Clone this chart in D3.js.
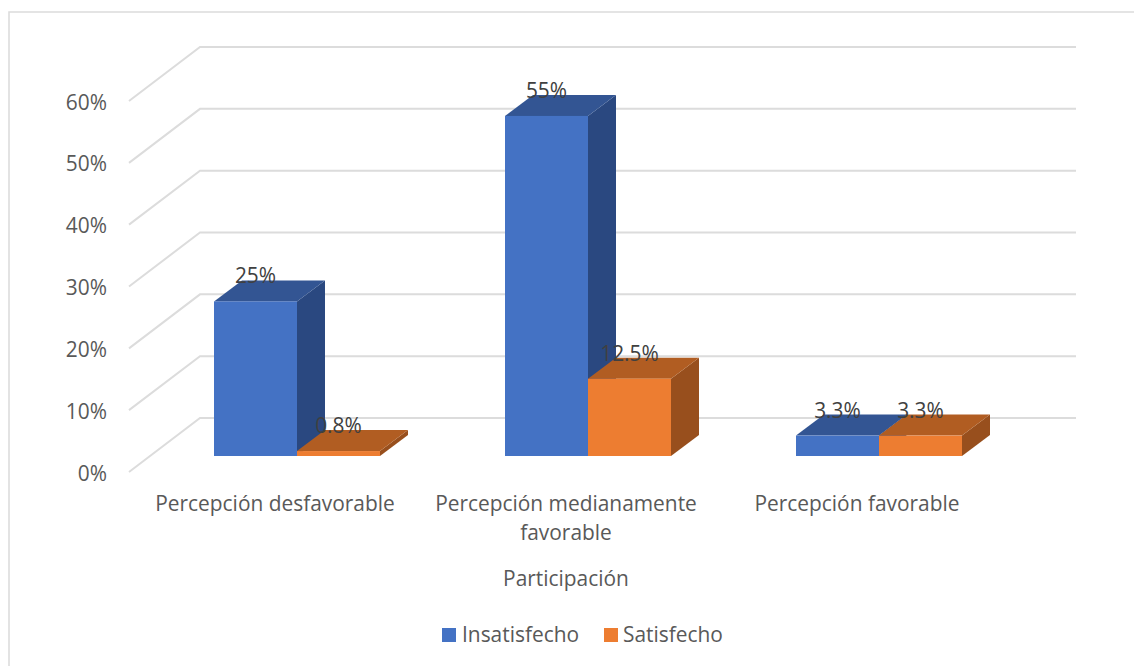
<!DOCTYPE html>
<html><head><meta charset="utf-8">
<script src="https://cdn.jsdelivr.net/npm/d3@7/dist/d3.min.js"></script>
<style>html,body{margin:0;padding:0;background:#fff}svg{display:block}text{font-family:"Open Sans",sans-serif}</style>
</head><body><svg id="c" width="1134" height="666"></svg>
<script>
const categories = ["Percepción desfavorable", "Percepción medianamente favorable", "Percepción favorable"];
const categoryLines = [["Percepción desfavorable"], ["Percepción medianamente", "favorable"], ["Percepción favorable"]];
const seriesNames = ["Insatisfecho", "Satisfecho"];
const insatisfecho = [25, 55, 3.3];
const satisfecho = [0.8, 12.5, 3.3];
const valueLabels = [["25%", "55%", "3.3%"], ["0.8%", "12.5%", "3.3%"]];
const yTicks = [0, 10, 20, 30, 40, 50, 60];
const axisTitle = "Participación";

const W = 1134, H = 666, FS = 20.9;
const svg = d3.select("#c");
const grid = "#dcdcdc", txt = "#595959", lbl = "#404040";
const front = ["#4472c4", "#ed7d31"], top_ = ["#335593", "#b15d22"], side = ["#2a4880", "#984f1d"];

// frame
svg.append("path").attr("d", `M9,${H}V12H${W}`).attr("fill", "none").attr("stroke", "#dcdcdc").attr("stroke-width", 1.6);

// scales
const y = d3.scaleLinear().domain([0, 60]).range([472, 101]);      // front edge of the floor
const depth = { dx: 71, dy: -54 };                                  // full depth of the 3D box
const barInset = { dx: 22, dy: -16 }, barDepth = { dx: 28, dy: -21 };
const x = d3.scaleBand().domain(categories).range([129.5, 1002.5]);
const xS = d3.scaleBand().domain(seriesNames).range([0, 166]);
const right = 1076;

// walls
const g = svg.append("g").attr("fill", "none").attr("stroke", grid).attr("stroke-width", 2);
yTicks.forEach(t => g.append("path").attr("d", d3.line()([
  [129, y(t)], [129 + depth.dx, y(t) + depth.dy], [right, y(t) + depth.dy]])));

// y tick labels
svg.append("g").selectAll("text").data(yTicks).join("text")
  .attr("x", 107).attr("y", d => y(d) + 8.5).attr("text-anchor", "end")
  .attr("font-size", FS).attr("fill", txt).text(d => d + "%");

// bars
const vals = [insatisfecho, satisfecho];
const poly = pts => pts.map(p => p.join(",")).join(" ");
categories.forEach((c, i) => {
  const cx = x(c) + x.bandwidth() / 2 + barInset.dx;
  seriesNames.forEach((s, k) => {
    const v = vals[k][i];
    const x0 = cx - 83 + xS(s), x1 = x0 + xS.bandwidth();
    const y0 = y(0) + barInset.dy, yv = y(v) + barInset.dy;
    const d = barDepth;
    svg.append("polygon").attr("fill", side[k]).attr("points", poly([[x1, y0], [x1 + d.dx, y0 + d.dy], [x1 + d.dx, yv + d.dy], [x1, yv]]));
    svg.append("polygon").attr("fill", top_[k]).attr("points", poly([[x0, yv], [x0 + d.dx, yv + d.dy], [x1 + d.dx, yv + d.dy], [x1, yv]]));
    svg.append("rect").attr("x", x0).attr("y", yv).attr("width", x1 - x0).attr("height", y0 - yv).attr("fill", front[k]);
  });
});
// value labels, above everything
categories.forEach((c, i) => {
  const cx = x(c) + x.bandwidth() / 2 + barInset.dx;
  seriesNames.forEach((s, k) => {
    const x0 = cx - 83 + xS(s);
    svg.append("text").attr("x", x0 + xS.bandwidth() / 2).attr("y", y(vals[k][i]) + barInset.dy - 18)
      .attr("text-anchor", "middle").attr("font-size", FS).attr("fill", lbl).text(valueLabels[k][i]);
  });
});

// category labels
categories.forEach((c, i) => {
  const cx = x(c) + x.bandwidth() / 2;
  svg.append("text").attr("text-anchor", "middle").attr("font-size", FS).attr("fill", txt)
    .selectAll("tspan").data(categoryLines[i]).join("tspan")
    .attr("x", cx).attr("y", (d, j) => 511 + j * 29).text(d => d);
});

// axis title
svg.append("text").attr("x", 566).attr("y", 586).attr("text-anchor", "middle").attr("font-size", FS).attr("fill", txt).text(axisTitle);

// legend
const legX = [442, 604], legT = [462, 623];
seriesNames.forEach((s, k) => {
  svg.append("rect").attr("x", legX[k]).attr("y", 628).attr("width", 14).attr("height", 14).attr("fill", front[k]);
  svg.append("text").attr("x", legT[k]).attr("y", 642).attr("font-size", FS).attr("fill", txt).text(s);
});
</script></body></html>
